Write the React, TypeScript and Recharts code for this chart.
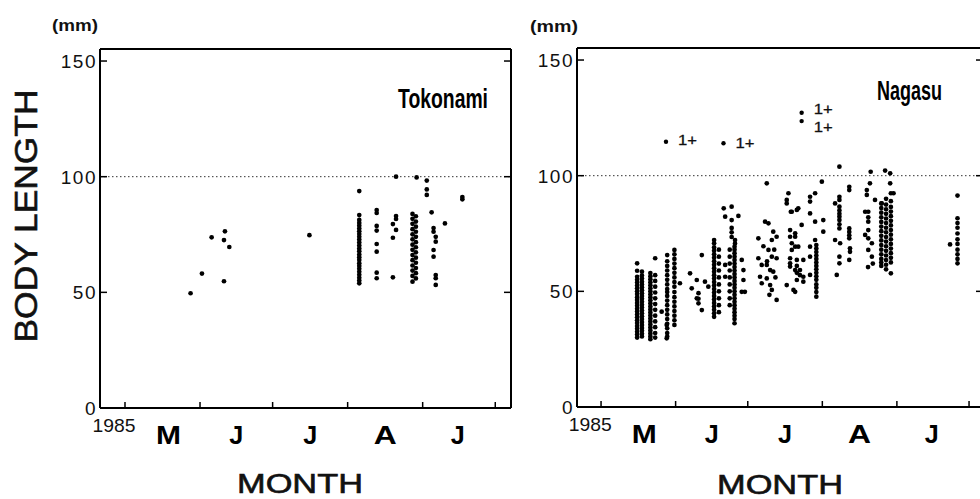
import React from 'react';
import { ScatterChart, Scatter, XAxis, YAxis, ReferenceLine } from 'recharts';

// ---------- axes / labels ----------
const monthStarts = [0, 31, 61, 92, 123, 153]; // days since May 1, 1985
const monthMids = [18, 46, 76.5, 107.5, 137.5];
const monthLetters = ['M', 'J', 'J', 'A', 'J'];
const yearTick = -4.5;
const yearLabel = '1985';
const lengthTicks = [0, 50, 100, 150];
const yMax = 155.2;
const refLength = 100;

// ---------- Tokonami (left) ----------
const tokSingles: [number, number][] = [
  [27.1, 49.6], [31.8, 58.1], [35.8, 73.8], [41.3, 76.4], [40.9, 72.6], [43.1, 69.6],
  [40.9, 54.8], [76.2, 74.7], [120.5, 99.7], [132.2, 79.8], [139.4, 91.2], [139.4, 90.2],
];
const tokColDays = [96.8, 104.0, 112.0, 110.7, 118.8, 120.2, 124.7, 126.7, 127.5, 128.4];
const tokColLengths: number[][] = [
  [93.8, 83.4, 81.3, 80.0, 78.8, 77.6, 76.4, 75.2, 74.0, 72.8, 71.6, 70.3, 69.0, 67.8, 66.4, 65.2, 64.0, 62.6, 61.4, 60.2, 58.9, 57.6, 56.3, 55.1, 53.9],
  [85.6, 84.3, 78.7, 76.7, 70.9, 67.6, 58.5, 56.1],
  [100.0, 83.0, 81.7, 77.0],
  [79.5, 73.6, 56.5],
  [83.9, 81.8, 79.6, 77.3, 75.1, 72.9, 70.6, 68.4, 66.1, 63.9, 61.6, 59.4, 57.1, 54.6],
  [82.9, 80.6, 78.4, 76.2, 74.0, 71.7, 69.5, 67.3, 65.0, 62.8, 60.5, 58.3, 56.0],
  [98.3, 94.5, 92.1],
  [84.6],
  [77.8, 76.2, 68.3, 65.4],
  [74.0, 71.9, 57.5, 56.1, 53.2],
];

// ---------- Nagasu (right) ----------
const nagSingles: [number, number][] = [
  [32.8, 53.5], [25.2, 41.2], [27.3, 35.5], [27.3, 29.7],
  [37.0, 57.8], [39.8, 54.9], [41.9, 65.7], [43.2, 54.2], [44.6, 52.0], [40.5, 49.2], [40.5, 46.8],
  [40.5, 44.8], [41.9, 41.9], [37.7, 51.3], [39.8, 47.0],
  [51.0, 85.9], [54.3, 86.6], [51.6, 82.3], [57.1, 82.6], [54.3, 80.8], [54.3, 77.4], [54.3, 75.5],
  [54.3, 73.5], [55.7, 72.2], [55.7, 70.7], [58.5, 63.6], [59.2, 59.2], [59.2, 54.9], [58.5, 49.8],
  [59.8, 49.8], [51.6, 61.4], [51.6, 56.3],
  [68.9, 96.7], [68.2, 80.1], [69.6, 79.4], [71.6, 75.8], [73.0, 73.6], [71.0, 72.2], [65.4, 72.9],
  [69.6, 67.9], [71.0, 65.0], [73.0, 64.3], [65.4, 64.3], [66.8, 61.4], [68.9, 61.4], [70.3, 59.2],
  [71.6, 58.5], [66.1, 56.3], [68.9, 55.6], [66.8, 53.5], [70.3, 52.7], [71.0, 50.6], [73.0, 46.3],
  [67.5, 69.5], [72.0, 68.0], [69.0, 63.0], [72.5, 56.0], [70.0, 48.5],
  [77.9, 92.4], [77.2, 89.5], [77.2, 88.0], [78.9, 84.4], [81.4, 85.2], [82.0, 85.9], [79.3, 84.4],
  [83.4, 78.7], [78.6, 76.5], [78.6, 73.6], [80.7, 75.1], [80.7, 73.6], [79.3, 70.8], [80.7, 69.3],
  [79.3, 67.9], [82.0, 69.3], [78.6, 64.3], [78.6, 62.1], [78.6, 60.7], [80.7, 59.2], [81.4, 63.6],
  [81.4, 61.0], [81.4, 58.0], [81.4, 54.9], [84.1, 63.6], [84.1, 56.3], [84.1, 54.2], [82.7, 59.2],
  [82.7, 57.0], [77.2, 52.7], [80.7, 49.8], [80.0, 50.6],
  [91.8, 97.4], [89.0, 92.4], [86.9, 90.9], [86.9, 88.8], [86.9, 83.7], [89.0, 80.1], [92.4, 80.8],
  [92.4, 75.8], [89.0, 72.2], [86.9, 69.3], [86.9, 65.0], [86.9, 57.1],
  [99.1, 103.9], [103.2, 95.2], [103.2, 93.8], [99.1, 90.9], [99.1, 89.5], [97.3, 88.0], [99.1, 86.6],
  [99.1, 85.0], [99.1, 83.5], [99.1, 82.3], [99.1, 80.8], [99.1, 79.0], [99.1, 77.2], [103.2, 77.2],
  [103.2, 75.7], [103.2, 74.2], [103.2, 72.9], [97.3, 72.2], [99.4, 70.8], [103.5, 68.6], [103.5, 67.1],
  [99.1, 65.0], [103.2, 63.6], [99.1, 62.1], [98.0, 57.1],
  [112.1, 101.7], [111.8, 96.7], [110.5, 93.8], [110.5, 91.7], [113.9, 89.5], [116.7, 88.0],
  [118.1, 102.2], [120.2, 101.0], [120.2, 96.7], [111.1, 84.4], [109.8, 84.4], [111.1, 82.0],
  [111.1, 80.1], [111.1, 76.5], [111.1, 72.9], [109.8, 74.4], [112.6, 70.8], [111.1, 67.9],
  [112.6, 65.0], [113.0, 62.0], [111.0, 60.5], [121.6, 92.4],
  [145.1, 70.3],
];
const nagColDays = [15.0, 17.0, 20.5, 22.5, 27.5, 30.5, 47.0, 49.0, 53.5, 55.5, 89.5, 116.5, 118.5, 120.5, 148.2];
const nagColLengths: number[][] = [
  [62.1, 58.9, 56.3, 55.0, 53.8, 52.5, 51.3, 50.0, 48.8, 47.5, 46.3, 45.0, 43.8, 42.5, 41.3, 40.0, 38.8, 37.5, 36.3, 35.0, 33.8, 32.5, 31.3, 30.0],
  [58.5, 56.8, 55.5, 54.2, 53.0, 51.8, 50.5, 49.2, 48.0, 46.8, 45.5, 44.2, 43.0, 41.7, 40.5, 39.2, 38.0, 36.7, 35.5, 34.2, 33.0, 31.7, 30.5],
  [57.9, 56.5, 55.2, 53.9, 52.6, 51.3, 50.0, 48.7, 47.4, 46.1, 44.8, 43.5, 42.2, 40.9, 39.6, 38.3, 37.0, 35.7, 34.4, 33.1, 31.8, 30.5, 29.3],
  [64.3, 57.0, 54.5, 52.0, 49.5, 47.0, 44.5, 42.0, 39.5, 37.0, 34.5, 32.0, 30.0],
  [65.7, 63.0, 61.0, 59.0, 57.0, 55.0, 53.0, 51.0, 49.7, 48.0, 46.0, 44.0, 42.0, 40.0, 38.0, 36.0, 34.0, 32.0, 30.5],
  [67.9, 66.0, 64.0, 62.0, 60.0, 58.0, 56.0, 54.0, 52.0, 49.7, 47.5, 45.5, 43.5, 41.5, 39.5, 37.5, 35.5],
  [72.2, 70.8, 69.0, 67.5, 66.0, 64.5, 63.0, 61.5, 60.0, 58.5, 57.0, 55.5, 54.0, 52.5, 51.0, 49.5, 48.0, 46.5, 45.0, 43.5, 42.0, 40.5, 39.0],
  [68.0, 65.0, 62.0, 59.0, 56.0, 53.0, 50.0, 47.0, 44.0, 41.0],
  [68.0, 65.0, 62.0, 59.0, 56.0, 53.0, 50.0, 47.0, 44.0],
  [69.3, 68.0, 66.5, 65.0, 63.5, 62.0, 60.5, 59.0, 57.5, 56.0, 54.5, 53.0, 51.5, 50.0, 48.5, 47.0, 45.5, 44.0, 42.5, 41.0, 39.5, 38.0, 36.2],
  [70.0, 68.5, 67.0, 65.5, 64.0, 62.5, 61.0, 59.5, 58.0, 56.5, 55.0, 53.0, 51.5, 49.7, 47.7],
  [88.0, 86.0, 84.0, 82.0, 80.0, 78.0, 76.0, 74.0, 72.0, 70.0, 68.0, 66.0, 64.0, 62.5, 61.0],
  [90.0, 87.5, 85.5, 83.5, 81.5, 79.5, 77.5, 75.5, 73.5, 71.5, 69.5, 67.5, 65.5, 63.5, 61.5, 59.5],
  [92.4, 89.0, 86.5, 84.5, 82.5, 80.5, 78.5, 76.5, 74.5, 72.5, 70.5, 68.5, 66.5, 64.5, 62.5, 57.8],
  [91.4, 81.6, 79.5, 77.5, 75.0, 72.5, 70.5, 68.0, 66.0, 64.0, 62.1],
];
// older fish (1+) in Nagasu
const nagOlder: [number, number][] = [[27.0, 114.7], [50.9, 114.0], [83.4, 127.2], [83.4, 123.6]];
const olderTag = '1+';
const olderTagDy = [3, 5, 1, 11];

type Pt = { day: number; len: number };
const build = (singles: [number, number][], days: number[], cols: number[][]): Pt[] => {
  const out: Pt[] = singles.map(([day, len]) => ({ day, len }));
  days.forEach((day, i) => cols[i].forEach((len) => out.push({ day, len })));
  return out;
};
const tokPoints = build(tokSingles, tokColDays, tokColLengths);
const nagPoints = build(nagSingles, nagColDays, nagColLengths);
const nagOlderPoints: Pt[] = nagOlder.map(([day, len]) => ({ day, len }));

const FONT = "'Liberation Sans', Arial, Helvetica, sans-serif";
const NARROW = "'Liberation Sans Narrow', 'Liberation Sans', Arial, sans-serif";
const bottomTicks = [yearTick, ...monthStarts, ...monthMids].sort((a, b) => a - b);
const letterWidth: Record<string, number> = { M: 25, A: 23, J: 14 };

const Dot = (p: any) => <circle cx={p.cx} cy={p.cy} r={2.35} fill="#000" />;
const OlderDot = (p: any) => (
  <g>
    <circle cx={p.cx} cy={p.cy} r={2.2} fill="#000" />
    <text x={p.cx + 12} y={p.cy + (olderTagDy[p.index] ?? 3)} fontSize={15} fontFamily={FONT} fill="#111"
      stroke="#111" strokeWidth={0.3} textLength={19} lengthAdjust="spacingAndGlyphs">{olderTag}</text>
  </g>
);

const BottomTick = (props: any) => {
  const { x, y, payload } = props;
  const v = payload.value;
  if (monthStarts.indexOf(v) >= 0) {
    return <line x1={x} x2={x} y1={y} y2={y - 6} stroke="#000" strokeWidth={1.5} />;
  }
  if (v === yearTick) {
    return (
      <text x={x} y={y + 24} textAnchor="middle" fontSize={19} fontFamily={FONT} fill="#111"
        textLength={43} lengthAdjust="spacingAndGlyphs">{yearLabel}</text>
    );
  }
  const mi = monthMids.indexOf(v);
  const letter = monthLetters[mi] ?? '';
  return (
    <text x={x} y={y + 36} textAnchor="middle" fontSize={26} fontWeight="bold" fontFamily={FONT} fill="#000"
      textLength={letterWidth[letter]} lengthAdjust="spacingAndGlyphs">{letter}</text>
  );
};
const TopTick = (props: any) => {
  const { x, y } = props;
  return <line x1={x} x2={x} y1={y} y2={y + 6} stroke="#000" strokeWidth={1.5} />;
};
const LeftTick = (props: any) => {
  const { x, y, payload } = props;
  return (
    <g>
      <line x1={x} x2={x + 7} y1={y} y2={y} stroke="#000" strokeWidth={1.5} />
      <text x={x - 3} y={y} dy="0.36em" textAnchor="end" fontSize={19} letterSpacing={1.5} fontFamily={FONT} fill="#111">
        {payload.value}
      </text>
    </g>
  );
};
const RightTick = (props: any) => {
  const { x, y } = props;
  return <line x1={x} x2={x - 7} y1={y} y2={y} stroke="#000" strokeWidth={1.5} />;
};

const axisLine = { stroke: '#000', strokeWidth: 2 };

function Panel(props: { left: number; margin: any; xDomain: [number, number]; points: Pt[]; older?: Pt[] }) {
  const { left, margin, xDomain, points, older } = props;
  return (
    <div style={{ position: 'absolute', left, top: 0 }}>
      <ScatterChart width={520} height={499} margin={margin}>
        <XAxis xAxisId="b" dataKey="day" type="number" domain={xDomain} allowDataOverflow ticks={bottomTicks}
          interval={0} tick={BottomTick} tickLine={false} tickSize={0} tickMargin={0} axisLine={axisLine} height={60} />
        <XAxis xAxisId="t" orientation="top" type="number" domain={xDomain} allowDataOverflow ticks={monthStarts}
          interval={0} tick={TopTick} tickLine={false} tickSize={0} tickMargin={0} axisLine={axisLine} height={1} />
        <YAxis yAxisId="l" dataKey="len" type="number" domain={[0, yMax]} allowDataOverflow ticks={lengthTicks}
          interval={0} tick={LeftTick} tickLine={false} tickSize={0} tickMargin={0} axisLine={axisLine} width={60} />
        <YAxis yAxisId="r" orientation="right" type="number" domain={[0, yMax]} allowDataOverflow ticks={lengthTicks.slice(1)}
          interval={0} tick={RightTick} tickLine={false} tickSize={0} tickMargin={0} axisLine={axisLine} width={1} />
        <ReferenceLine xAxisId="b" yAxisId="l" y={refLength} stroke="#333" strokeWidth={1} strokeDasharray="1.5 2.5" />
        <Scatter xAxisId="b" yAxisId="l" data={points} shape={Dot} isAnimationActive={false} />
        {older ? <Scatter xAxisId="b" yAxisId="l" data={older} shape={OlderDot} isAnimationActive={false} /> : null}
      </ScatterChart>
    </div>
  );
}

export default function App() {
  return (
    <div style={{ position: 'absolute', left: 0, top: 0, width: 980, height: 499, overflow: 'hidden', background: '#fff' }}>
      <Panel left={0} margin={{ top: 48, right: 8, bottom: 31, left: 40 }} xDomain={[-10.33, 159.5]} points={tokPoints} />
      <Panel left={480} margin={{ top: 47, right: 16, bottom: 32, left: 37 }} xDomain={[-10, 158.8]} points={nagPoints} older={nagOlderPoints} />
      <svg width={980} height={499} style={{ position: 'absolute', left: 0, top: 0, pointerEvents: 'none' }}>
        <text x={52} y={31} fontSize={16} fontWeight="bold" fontFamily={FONT} fill="#111" textLength={46} lengthAdjust="spacingAndGlyphs">(mm)</text>
        <text x={530} y={32} fontSize={16} fontWeight="bold" fontFamily={FONT} fill="#111" textLength={48} lengthAdjust="spacingAndGlyphs">(mm)</text>
        <text x={25} y={227.5} transform="rotate(-90, 25, 216)" textAnchor="middle" fontSize={32} fontFamily={FONT} fill="#111"
          stroke="#111" strokeWidth={0.6} textLength={253} lengthAdjust="spacingAndGlyphs">BODY LENGTH</text>
        <text x={300} y={493} textAnchor="middle" fontSize={27} fontFamily={FONT} fill="#111" stroke="#111" strokeWidth={0.6}
          textLength={126} lengthAdjust="spacingAndGlyphs">MONTH</text>
        <text x={780} y={494} textAnchor="middle" fontSize={27} fontFamily={FONT} fill="#111" stroke="#111" strokeWidth={0.6}
          textLength={126} lengthAdjust="spacingAndGlyphs">MONTH</text>
        <text x={398} y={108} fontSize={28} fontWeight="bold" fontFamily={NARROW} fill="#000" textLength={90} lengthAdjust="spacingAndGlyphs">Tokonami</text>
        <text x={877} y={100} fontSize={28} fontWeight="bold" fontFamily={NARROW} fill="#000" textLength={65} lengthAdjust="spacingAndGlyphs">Nagasu</text>
      </svg>
    </div>
  );
}
